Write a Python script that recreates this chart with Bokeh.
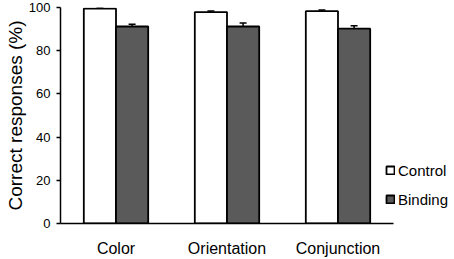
from bokeh.plotting import figure
from bokeh.models import (ColumnDataSource, FixedTicker, Whisker, TeeHead,
                          Legend, LegendItem)
from bokeh.embed import file_html
from bokeh.resources import INLINE

categories = ["Color", "Orientation", "Conjunction"]
control = [99.5, 97.9, 98.3]
control_err = [0.3, 0.5, 0.5]
binding = [91.2, 91.2, 90.2]
binding_err = [1.1, 1.6, 1.3]
y_ticks = [0, 20, 40, 60, 80, 100]

n = len(categories)
centers = [i + 0.5 for i in range(n)]
off = 0.145
w = 0.29

src = ColumnDataSource(dict(
    xc=[c - off for c in centers],
    xb=[c + off for c in centers],
    control=control,
    c_up=[v + e for v, e in zip(control, control_err)],
    c_lo=[v - e for v, e in zip(control, control_err)],
    binding=binding,
    b_up=[v + e for v, e in zip(binding, binding_err)],
    b_lo=[v - e for v, e in zip(binding, binding_err)],
))

FONT = "Liberation Sans"

# frame extends to the right edge so the legend can sit past the axis end
x_end = n * 394 / 333

p = figure(x_range=(0, x_end), y_range=(0, 100),
           width=454, height=259, output_backend="svg", toolbar_location=None,
           min_border_left=60, min_border_right=0, min_border_top=7, min_border_bottom=36)
p.outline_line_color = None
p.xgrid.grid_line_color = None
p.ygrid.grid_line_color = None
p.background_fill_color = "white"

r1 = p.vbar(x="xc", top="control", width=w, bottom=0,
            source=src, fill_color="white", line_color="black", line_width=1.8)
r2 = p.vbar(x="xb", top="binding", width=w, bottom=0,
            source=src, fill_color="#5a5a5a", line_color="black", line_width=1.8)

for base, up, lo in [("xc", "c_up", "c_lo"), ("xb", "b_up", "b_lo")]:
    wk = Whisker(base=base, upper=up, lower=lo, source=src,
                 line_color="black", line_width=1.5,
                 upper_head=TeeHead(size=7, line_color="black", line_width=1.5),
                 lower_head=TeeHead(size=7, line_color="black", line_width=1.5))
    p.add_layout(wk)

p.yaxis.ticker = FixedTicker(ticks=y_ticks)
p.yaxis.major_tick_out = 4
p.yaxis.major_tick_in = 0
p.yaxis.minor_tick_line_color = None
p.yaxis.axis_line_width = 1.5
p.yaxis.major_tick_line_width = 1.5
p.yaxis.axis_line_color = "black"
p.yaxis.major_tick_line_color = "black"
p.yaxis.major_label_text_font = FONT
p.yaxis.major_label_text_font_size = "13px"
p.yaxis.major_label_text_color = "black"
p.yaxis.major_label_standoff = 6
p.yaxis.axis_label = "Correct responses (%)"
p.yaxis.axis_label_text_font = FONT
p.yaxis.axis_label_text_font_size = "19px"
p.yaxis.axis_label_text_font_style = "normal"
p.yaxis.axis_label_text_color = "black"
p.yaxis.axis_label_standoff = 0

p.xaxis.ticker = FixedTicker(ticks=centers)
p.xaxis.major_label_overrides = {c: lab for c, lab in zip(centers, categories)}
p.xaxis.bounds = (0, n)
p.xaxis.major_tick_line_color = None
p.xaxis.minor_tick_line_color = None
p.xaxis.axis_line_width = 1.5
p.xaxis.axis_line_color = "black"
p.xaxis.major_label_text_font = FONT
p.xaxis.major_label_text_font_size = "16px"
p.xaxis.major_label_text_color = "black"
p.xaxis.major_label_standoff = 10

legend = Legend(items=[LegendItem(label="Control", renderers=[r1]),
                       LegendItem(label="Binding", renderers=[r2])],
                location=(325, 14), padding=0, margin=0, spacing=9,
                glyph_width=10, glyph_height=10, label_height=20, label_standoff=3,
                label_text_font=FONT, label_text_font_size="15px", label_text_color="black",
                border_line_color=None, background_fill_alpha=0)
p.add_layout(legend)

open("out.html", "w").write(file_html(p, INLINE))
